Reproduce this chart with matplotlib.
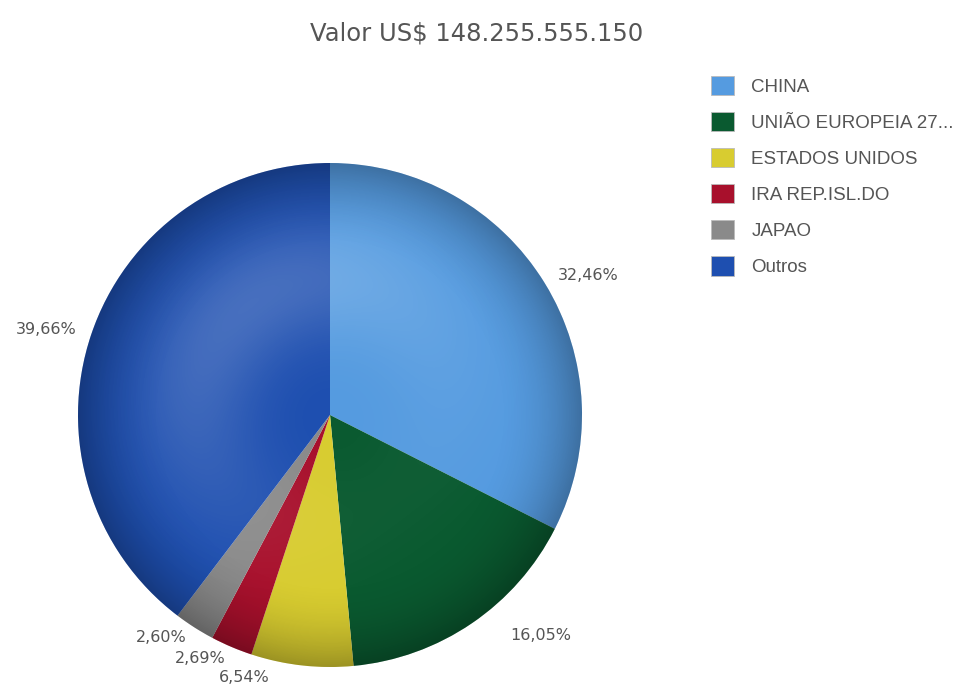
import numpy as np
import matplotlib
matplotlib.use("Agg")
import matplotlib.pyplot as plt
from matplotlib.patches import Circle, Patch

# export share by destination
paises = ["CHINA", "UNIÃO EUROPEIA 27...", "ESTADOS UNIDOS", "IRA REP.ISL.DO", "JAPAO", "Outros"]
percentuais = [32.46, 16.05, 6.54, 2.69, 2.60, 39.66]
cores = ["#559be0", "#0a5a30", "#d8cc30", "#a8102c", "#8a8a8a", "#1e4fb0"]
titulo = "Valor US$ 148.255.555.150"

W, H = 959, 686
fig = plt.figure(figsize=(W / 100, H / 100), dpi=100)
fig.patch.set_facecolor("white")

# pie axes: centre (330, 415) px, radius 252 px
cx, cy, R = 330, 415, 252
ax = fig.add_axes([(cx - R) / W, (H - cy - R) / H, 2 * R / W, 2 * R / H])
ax.set_xlim(-1, 1)
ax.set_ylim(-1, 1)
ax.set_aspect("equal")
ax.axis("off")

rotulos = [f"{p:.2f}%".replace(".", ",") for p in percentuais]
wedges, textos = ax.pie(percentuais, colors=cores, startangle=90, counterclock=False,
                        radius=1.0, labels=rotulos, labeldistance=1.06,
                        textprops=dict(family="DejaVu Sans", fontsize=11.5, color="#555555"),
                        wedgeprops=dict(linewidth=0))
ax.set_xlim(-1, 1)
ax.set_ylim(-1, 1)

# small nudges so labels don't sit on each other near the bottom
textos[1].set_x(textos[1].get_position()[0] + 0.12)
textos[2].set_horizontalalignment("right")
textos[2].set_x(textos[2].get_position()[0] - 0.12)
for t in textos[2:5]:
    t.set_y(t.get_position()[1] + 0.01)

# spherical shading over the pie
n = 500
xs = np.linspace(-1, 1, n)
X, Y = np.meshgrid(xs, xs[::-1])
r = np.sqrt(X ** 2 + Y ** 2)
d = (-X * 0.6 + Y * 0.8 + 1) / 2
luz = 0.32 * np.exp(-((r - 0.5) / 0.25) ** 2) * d ** 2
sombra = 0.28 * np.clip((r - 0.65) / 0.35, 0, 1) ** 2

branco = np.zeros((n, n, 4))
branco[..., :3] = 1
branco[..., 3] = luz
preto = np.zeros((n, n, 4))
preto[..., 3] = sombra

clip = Circle((0, 0), 1.0, transform=ax.transData)
for img in (branco, preto):
    im = ax.imshow(img, extent=(-1, 1, -1, 1), zorder=3, interpolation="bilinear")
    im.set_clip_path(clip)

fig.text(477 / W, 1 - 33 / H, titulo, ha="center", va="center",
         family="DejaVu Sans", fontsize=17.5, color="#555555")

fs = 13.5
handles = [Patch(facecolor=c, edgecolor="#bbbbbb", linewidth=0.6) for c in cores]
leg = fig.legend(handles, paises, loc="upper left", bbox_to_anchor=(711 / W, 1 - 76 / H),
                 frameon=False, handlelength=1.2, handleheight=1.2,
                 labelspacing=0.86, handletextpad=0.95, borderaxespad=0, borderpad=0,
                 prop=dict(family="Liberation Sans", size=fs))
for t in leg.get_texts():
    t.set_color("#555555")

fig.savefig("out.png", dpi=100, facecolor="white")
